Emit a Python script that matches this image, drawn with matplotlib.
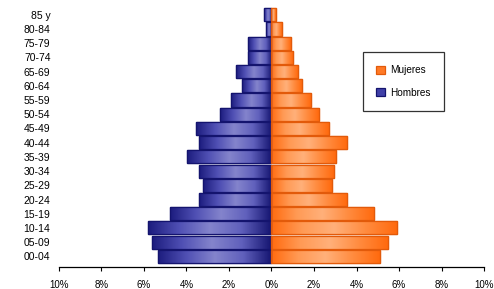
import matplotlib
matplotlib.use("Agg")
import matplotlib.pyplot as plt
import numpy as np
from matplotlib.colors import LinearSegmentedColormap

plt.rcParams['font.family'] = ['Liberation Sans', 'DejaVu Sans']

age_groups = ["00-04", "05-09", "10-14", "15-19", "20-24", "25-29", "30-34", "35-39",
              "40-44", "45-49", "50-54", "55-59", "60-64", "65-69", "70-74", "75-79",
              "80-84", "85 y"]
hombres = [5.35, 5.6, 5.8, 4.75, 3.4, 3.2, 3.4, 3.95, 3.4, 3.55, 2.4, 1.9, 1.4, 1.65,
           1.1, 1.1, 0.25, 0.35]
mujeres = [5.1, 5.5, 5.9, 4.8, 3.55, 2.85, 2.95, 3.05, 3.55, 2.7, 2.25, 1.85, 1.45, 1.25,
           1.0, 0.9, 0.5, 0.2]
xticks = [-10, -8, -6, -4, -2, 0, 2, 4, 6, 8, 10]
xticklabels = ["10%", "8%", "6%", "4%", "2%", "0%", "2%", "4%", "6%", "8%", "10%"]

fig = plt.figure(figsize=(4.94, 2.89), dpi=100)
ax = fig.add_axes([0.119, 0.076, 0.861, 0.90])

y = np.arange(len(age_groups))
h = 0.92
bars_m = ax.barh(y, [-v for v in hombres], height=h, color="#4040a8",
                 edgecolor="#14146e", linewidth=0.9, label="Hombres", zorder=2)
bars_w = ax.barh(y, mujeres, height=h, color="#ff7a26",
                 edgecolor="#e25a0a", linewidth=0.9, label="Mujeres", zorder=2)

cm_blue = LinearSegmentedColormap.from_list(
    "b", ["#1c1c7e", "#5050b4", "#8484cc", "#6060bc", "#141470"])
cm_orange = LinearSegmentedColormap.from_list(
    "o", ["#ff6a0e", "#ff9a55", "#ffb07a", "#ff8c40", "#ff6a0e"])

grad = np.linspace(0, 1, 256).reshape(1, -1)
for bars, cmap in ((bars_m, cm_blue), (bars_w, cm_orange)):
    for p in bars:
        x0, w = p.get_x(), p.get_width()
        y0, hh = p.get_y(), p.get_height()
        xa, xb = min(x0, x0 + w), max(x0, x0 + w)
        im = ax.imshow(grad, cmap=cmap, aspect="auto",
                       extent=(xa, xb, y0, y0 + hh), zorder=2.5,
                       interpolation="bilinear")
        im.set_clip_path(p)
    for p in bars:
        ax.add_patch(plt.Rectangle((p.get_x(), p.get_y()), p.get_width(), p.get_height(),
                                   fill=False, edgecolor=p.get_edgecolor(),
                                   linewidth=0.9, zorder=3))

ax.set_xlim(-10, 10)
ax.set_ylim(-0.75, 17.55)
ax.set_xticks(xticks)
ax.set_xticklabels(xticklabels, fontsize=7)
ax.set_yticks(y)
ax.set_yticklabels(age_groups, fontsize=7.5)
ax.tick_params(axis='y', length=0, pad=6)
ax.tick_params(axis='x', length=3, width=0.8, direction='out', pad=6)
for s in ("top", "right", "left"):
    ax.spines[s].set_visible(False)
ax.spines["bottom"].set_linewidth(0.9)

handles = [bars_w, bars_m]
leg = ax.legend(handles, ["Mujeres", "Hombres"], loc="upper left",
                bbox_to_anchor=(0.715, 0.828), fontsize=7.2, frameon=True,
                fancybox=False, edgecolor="black", handlelength=0.9,
                handleheight=0.9, borderpad=1.35, labelspacing=1.25,
                handletextpad=0.5, borderaxespad=0)
leg.get_frame().set_linewidth(0.9)

fig.savefig("out.png", dpi=100)
